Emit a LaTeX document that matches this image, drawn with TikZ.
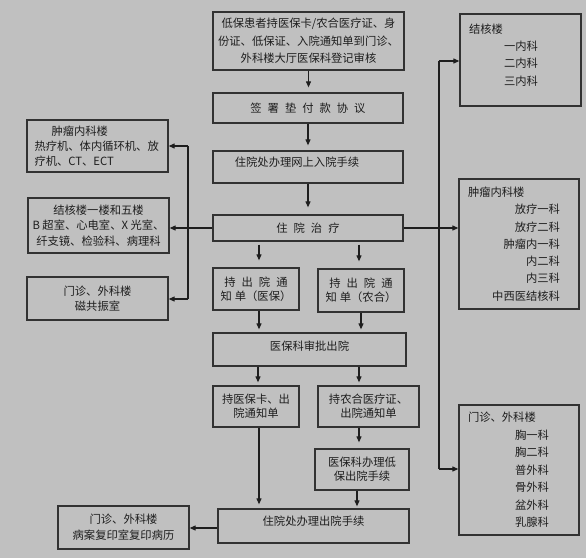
\documentclass[tikz,border=0pt]{standalone}
\usepackage{fontspec}
\setmainfont{Noto Sans CJK SC}
\usetikzlibrary{arrows.meta}
\definecolor{bg}{RGB}{192,192,192}
\definecolor{edge}{RGB}{50,50,50}
\definecolor{ink}{RGB}{30,30,30}
\newcommand{\ls}{\hspace{6pt}}
\newcommand{\fs}[1]{\fontsize{11.3}{#1}\selectfont}
\newcommand{\rpad}[1]{\hbox to #1{}}
\begin{document}
\begin{tikzpicture}[x=1pt,y=-1pt,
  box/.style={draw=edge, line width=1.3pt, rectangle, inner sep=0pt, text=ink, font=\fs{15}},
  conn/.style={draw=ink, line width=1.1pt},
  arr/.style={conn, -{Triangle[length=6pt,width=5pt]}},
  garr/.style={arr, shorten >=5pt},
]
\fill[bg] (0,0) rectangle (586,558);
\useasboundingbox (0,0) rectangle (586,558);

% main column
\node[box, minimum width=191, minimum height=58, align=center, font=\fs{17.5}] (b1) at (308.5,41)
  {低保患者持医保卡/农合医疗证、身\\份证、低保证、入院通知单到门诊、\\外科楼大厅医保科登记审核};
\node[box, minimum width=190, minimum height=30] (b2) at (308,108)
  {签\ls 署\ls 垫\ls 付\ls 款\ls 协\ls 议};
\node[box, minimum width=190, minimum height=32, text depth=11pt] (b3) at (308,167)
  {住院处办理网上入院手续\rpad{22pt}};
\node[box, minimum width=190, minimum height=26] (b4) at (308,228)
  {住\ls 院\ls 治\ls 疗};
\node[box, minimum width=86, minimum height=42, align=center, font=\fs{14.3}] (b5) at (256,289)
  {持\ls 出\ls 院\ls 通\\知\hspace{3pt}单（医保）};
\node[box, minimum width=86, minimum height=43, align=center, font=\fs{14.3}] (b6) at (361,290.5)
  {持\ls 出\ls 院\ls 通\\知\hspace{3pt}单（农合）};
\node[box, minimum width=193, minimum height=33, text depth=7pt] (b7) at (309.5,349.5)
  {医保科审批出院};
\node[box, minimum width=86, minimum height=41, align=center, font=\fs{14}] (b8) at (256,406.5)
  {持医保卡、出\\院通知单};
\node[box, minimum width=101, minimum height=41, align=center, font=\fs{14}] (b9) at (368.5,406.5)
  {持农合医疗证、\\出院通知单};
\node[box, minimum width=94, minimum height=41, align=center, font=\fs{14}] (b10) at (362,469.5)
  {医保科办理低\\保出院手续};
\node[box, minimum width=191, minimum height=34, text depth=11pt] (b11) at (313.5,526)
  {住院处办理出院手续};

% left column
\node[box, minimum width=131, minimum height=43, align=center, font=\fs{16}] (b12) at (123.5,527.5)
  {门诊、外科楼\\病案复印室复印病历};
\node[box, minimum width=141, minimum height=52, align=left, text width=126, font=\fs{15}] (b13) at (97.5,146)
  {\hspace*{17pt}肿瘤内科楼\\热疗机、体内循环机、放\\疗机、CT、ECT};
\node[box, minimum width=141, minimum height=55, align=center, font=\fs{15.5}] (b14) at (98.5,225.5)
  {结核楼一楼和五楼\\B 超室、心电室、X 光室、\\纤支镜、检验科、病理科};
\node[box, minimum width=141, minimum height=43, align=center, font=\fs{15}] (b15) at (97.5,298.5)
  {门诊、外科楼\\磁共振室};

% right column
\node[box, minimum width=121, minimum height=92, align=left, text width=103, text depth=63pt, font=\fs{17.3}] (b16) at (520.5,60)
  {结核楼\\\hspace*{\fill}一内科\rpad{34pt}\\\hspace*{\fill}二内科\rpad{34pt}\\\hspace*{\fill}三内科\rpad{34pt}};
\node[box, minimum width=120, minimum height=130, align=left, text width=102, font=\fs{17.3}] (b17) at (519,244)
  {肿瘤内科楼\\\hspace*{\fill}放疗一科\rpad{10pt}\\\hspace*{\fill}放疗二科\rpad{10pt}\\\hspace*{\fill}肿瘤内一科\rpad{10pt}\\\hspace*{\fill}内二科\rpad{10pt}\\\hspace*{\fill}内三科\rpad{10pt}\\\hspace*{\fill}中西医结核科\rpad{10pt}};
\node[box, minimum width=120, minimum height=130, align=left, text width=102, font=\fs{17.5}] (b18) at (519,470)
  {门诊、外科楼\\\hspace*{\fill}胸一科\rpad{21pt}\\\hspace*{\fill}胸二科\rpad{21pt}\\\hspace*{\fill}普外科\rpad{21pt}\\\hspace*{\fill}骨外科\rpad{21pt}\\\hspace*{\fill}盆外科\rpad{21pt}\\\hspace*{\fill}乳腺科\rpad{21pt}};

% main flow arrows
\draw[garr] (b1.south) -- (b1.south |- b2.north);
\draw[garr] (b2.south) -- (b2.south |- b3.north);
\draw[arr, shorten >=7pt] (b3.south) -- (b3.south |- b4.north);
\draw[arr, shorten >=7pt, shorten <=3pt] ([xshift=3pt]b5.north |- b4.south) -- ([xshift=3pt]b5.north);
\draw[arr, shorten >=7pt, shorten <=3pt] ([xshift=-2pt]b6.north |- b4.south) -- ([xshift=-2pt]b6.north);
\draw[arr, shorten >=3pt] ([xshift=3pt]b5.south) -- ([xshift=3pt]b5.south |- b7.north);
\draw[arr, shorten >=3pt] (b6.south) -- (b6.south |- b7.north);
\draw[arr, shorten >=3pt] ([xshift=2pt]b8.north |- b7.south) -- ([xshift=2pt]b8.north);
\draw[arr, shorten >=3pt] ([xshift=-9.5pt]b9.north |- b7.south) -- ([xshift=-9.5pt]b9.north);
\draw[arr, shorten >=6pt] ([xshift=-9.5pt]b9.south) -- ([xshift=-9.5pt]b9.south |- b10.north);
\draw[arr, shorten >=2pt] ([xshift=-5pt]b10.south) -- ([xshift=-5pt]b10.south |- b11.north);
\draw[arr, shorten >=4pt] ([xshift=3pt]b8.south) -- ([xshift=3pt]b8.south |- b11.north);
\draw[arr] ([yshift=-2pt]b11.west) -- ([yshift=-2pt]b11.west -| b12.east);

% left branch
\draw[arr] (b4.west) -- (b4.west -| b14.east);
\coordinate (L1) at (188,146);
\coordinate (L2) at (188,299);
\draw[conn] (L1) -- (L2);
\draw[arr] (L1) -- (L1 -| b13.east);
\draw[arr] (L2) -- (L2 -| b15.east);

% right branch
\coordinate (R1) at (439,61);
\coordinate (R2) at (439,469);
\draw[conn] (R1) -- (R2);
\draw[arr] (R1) -- (R1 -| b16.west);
\draw[arr] (R2) -- (R2 -| b18.west);
\draw[arr] (b4.east) -- (b4.east -| b17.west);
\end{tikzpicture}
\end{document}
